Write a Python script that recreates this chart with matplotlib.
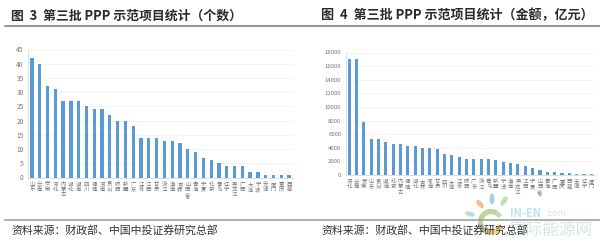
import matplotlib
matplotlib.use('Agg')
import matplotlib.pyplot as plt
from matplotlib.patches import Ellipse, Wedge

plt.rcParams['font.family'] = ['Noto Sans CJK SC', 'DejaVu Sans']

count_regions = ['山东', '云南', '安徽', '河北', '内蒙古', '湖北', '湖南', '四川', '福建', '河南', '贵州', '陕西',
                 '新疆', '广东', '江苏', '江西', '甘肃', '浙江', '海南', '吉林', '山西省', '青海', '宁夏', '北京',
                 '青岛', '辽宁', '黑龙江', '广西', '大连', '宁波', '天津', '厦门', '重庆', '西藏']
count_values = [42, 40, 32, 31, 27, 27, 27, 25, 24, 24, 22, 20,
                20, 18, 14, 14, 14, 13, 13, 12, 10, 9, 7, 6,
                5, 4, 4, 4, 2, 2, 1, 1, 1, 1]
count_ticks = [0, 5, 10, 15, 20, 25, 30, 35, 40, 45]

amount_regions = ['河北', '云南', '安徽', '山东', '贵州', '湖南', '北京', '内蒙古', '福建', '湖北', '吉林', '河南',
                  '甘肃', '四川', '大连', '江苏', '陕西', '广东', '浙江', '青岛', '新疆', '宁波', '海南', '黑龙江',
                  '江西', '宁夏', '山西省', '青海', '广西', '重庆', '西藏', '天津', '辽宁', '厦门']
amount_values = [17000, 17000, 7800, 5300, 5300, 4800, 4500, 4500, 4300, 4200, 4000, 3900,
                 3850, 3150, 3000, 2600, 2400, 2350, 2300, 2300, 2200, 1900, 1700, 1600,
                 1250, 1000, 700, 400, 400, 300, 250, 150, 100, 100]
amount_ticks = [0, 2000, 4000, 6000, 8000, 10000, 12000, 14000, 16000, 18000]

W, H = 600, 244
BAR = '#5b9bd5'
GREY = '#777777'


def draw_bars(box, regions, values, ticks, tick_size):
    # box is left, top, right, bottom in pixels
    l, t, r, b = box
    ax = fig.add_axes([l / W, 1 - b / H, (r - l) / W, (b - t) / H])
    x = range(len(values))
    ax.bar(x, values, width=0.42, color=BAR)
    ax.set_xlim(-0.5, len(values) - 0.5)
    ax.set_ylim(ticks[0], ticks[-1])
    ax.set_yticks(ticks)
    ax.tick_params(axis='y', length=0, labelsize=tick_size, labelcolor=GREY, pad=3)
    ax.set_xticks(list(x))
    ax.set_xticklabels(['\n'.join(n) for n in regions], fontsize=3.9, color=GREY, linespacing=1.05)
    ax.tick_params(axis='x', length=0, pad=3)
    ax.grid(axis='y', color='#f0f0f0', lw=0.5)
    ax.set_axisbelow(True)
    for s in ['top', 'right']:
        ax.spines[s].set_visible(False)
    ax.spines['left'].set_color('#d9d9d9')
    ax.spines['left'].set_linewidth(0.6)
    ax.spines['bottom'].set_color('#d9d9d9')
    ax.spines['bottom'].set_linewidth(0.6)
    return ax


fig = plt.figure(figsize=(W / 100, H / 100), dpi=100, facecolor='white')

draw_bars((28, 49.5, 293, 177.5), count_regions, count_values, count_ticks, 4.8)
draw_bars((345.5, 52.5, 595, 175), amount_regions, amount_values, amount_ticks, 4.3)

# page furniture in pixel coordinates
over = fig.add_axes([0, 0, 1, 1], facecolor='none')
over.set_xlim(0, W)
over.set_ylim(H, 0)
over.axis('off')

over.plot([5, 600], [25.5, 25.5], color='#777777', lw=1.1)
over.plot([5, 600], [220, 220], color='#999999', lw=1.1)

over.text(11, 15.5, '图  3  第三批 PPP 示范项目统计（个数）', fontsize=9.3, fontweight='bold',
          color='#2b2b2b', va='center', ha='left')
over.text(321, 15.5, '图  4  第三批 PPP 示范项目统计（金额，亿元）', fontsize=9.4, fontweight='bold',
          color='#2b2b2b', va='center', ha='left')

# watermark logo and text go under the source line
over.add_patch(Wedge((491, 222), 13, 20, 300, width=5, color='#f6c667', alpha=0.75, lw=0))
over.add_patch(Wedge((491, 222), 13, 120, 330, width=5, color='#a8d5a2', alpha=0.75, lw=0))
for cx, cy, w, h, ang, col in [(492, 199, 5, 11, 0, '#8fc6e8'),
                               (480, 204, 5, 10, -40, '#f3b38a'),
                               (504, 201, 5, 11, 35, '#b7dc9a'),
                               (470, 214, 5, 10, -75, '#a5dbd8')]:
    over.add_patch(Ellipse((cx, cy), w, h, angle=ang, color=col, alpha=0.85, lw=0))
over.text(510, 213.5, 'IN-EN', fontsize=8, fontweight='bold', color='#bfe3ea', va='center')
over.text(545, 214, '.com', fontsize=6.5, color='#cfe8d0', va='center')
over.text(510, 231, '国际能源网', fontsize=12, color='#cfe6da', va='center', alpha=0.9)

over.text(11, 230, '资料来源：财政部、中国中投证券研究总部', fontsize=7.85, color='#333333', va='center', ha='left')
over.text(321, 230, '资料来源：财政部、中国中投证券研究总部', fontsize=7.85, color='#333333', va='center', ha='left')

fig.savefig('out.png', dpi=100)
